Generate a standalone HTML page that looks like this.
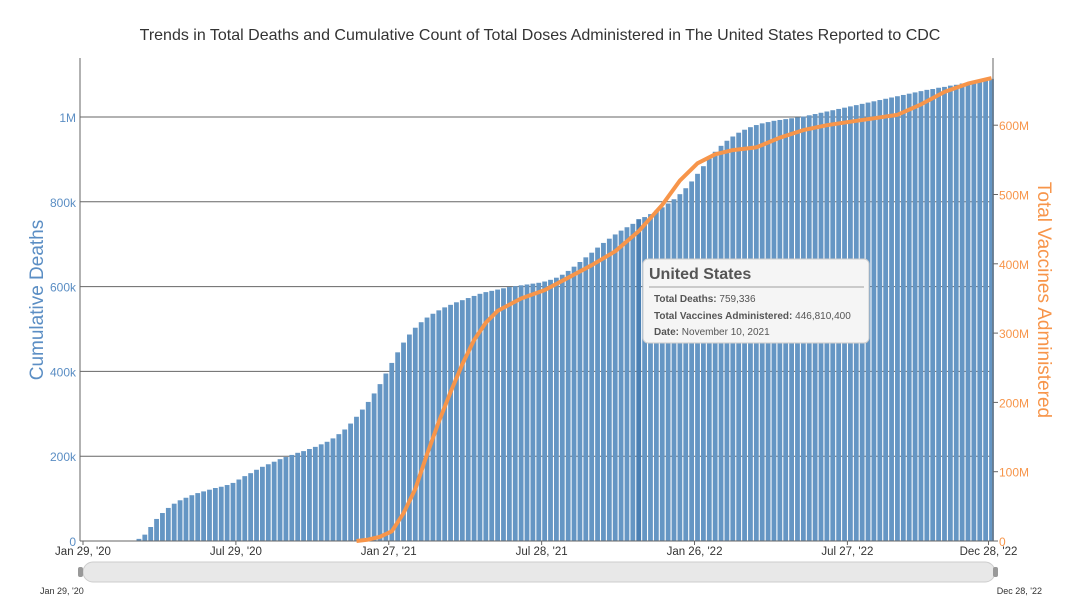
<!DOCTYPE html>
<html><head><meta charset="utf-8">
<style>
body{margin:0;background:#fff;font-family:"Liberation Sans","Noto Sans CJK SC",sans-serif;}
svg{display:block}
</style></head>
<body>
<svg id="chart" width="1080" height="604">
<text x="540" y="40" text-anchor="middle" font-size="16" fill="#333">Trends in Total Deaths and Cumulative Count of Total Doses Administered in The United States Reported to CDC</text>
<g id="grid"></g>
<g id="bars"></g>
<g id="axes"></g>
<path id="vline" fill="none" stroke="#f7954a" stroke-width="4" stroke-linejoin="round"/>
<text transform="translate(43,300) rotate(-90)" text-anchor="middle" font-size="19" fill="#5b8ec4">Cumulative Deaths</text>
<text transform="translate(1038,300) rotate(90)" text-anchor="middle" font-size="19" fill="#f7954a">Total Vaccines Administered</text>
<g>
<rect x="83" y="562" width="912" height="20" rx="10" fill="#e8e8e8" stroke="#ccc"/>
<rect x="78" y="567" width="5" height="10" rx="2" fill="#999"/>
<rect x="993" y="567" width="5" height="10" rx="2" fill="#999"/>
</g>
<text x="40" y="594" font-size="9" fill="#333">Jan 29, '20</text>
<text x="1042" y="594" font-size="9" fill="#333" text-anchor="end">Dec 28, '22</text>
<g>
<rect x="643" y="259" width="226" height="84" rx="5" fill="#f5f5f5" stroke="#ccc"/>
<text x="649" y="279" font-size="16" font-weight="bold" fill="#555">United States</text>
<line x1="649" y1="287" x2="864" y2="287" stroke="#bbb" stroke-width="1.5"/>
<text x="654" y="302" font-size="10" fill="#555"><tspan font-weight="bold">Total Deaths:</tspan> 759,336</text>
<text x="654" y="319" font-size="10" fill="#555"><tspan font-weight="bold">Total Vaccines Administered:</tspan> 446,810,400</text>
<text x="654" y="335" font-size="10" fill="#555"><tspan font-weight="bold">Date:</tspan> November 10, 2021</text>
</g>
</svg>
<script>
const deathsK=[0,0,0,0,0,0,0,0,1,5,15,33,52,66,78,88,96,102,108,113,117,121,125,128,132,137,145,153,160,168,175,181,187,193,198,203,208,212,217,222,228,234,242,252,263,277,293,310,328,348,370,395,420,445,468,487,503,516,527,536,544,551,557,563,568,573,578,583,587,590,593,596,599,601,603,605,607,609,612,616,621,628,637,647,658,669,680,692,703,713,723,732,740,748,759,764,771,779,787,796,806,818,832,848,866,884,902,918,932,944,954,963,970,976,981,985,988,991,993,995,997,999,1001,1004,1007,1010,1013,1016,1019,1022,1025,1028,1031,1034,1037,1040,1043,1046,1049,1052,1055,1058,1061,1064,1066,1069,1071,1074,1076,1079,1081,1084,1086,1088,1090];
const vaxWeeks=[46,48,50,52,54,56,58,60,62,64,66,68,70,74,78,82,86,90,94,98,101,104,107,110,114,118,122,126,130,134,138,142,146,150,154];
const vaxM=[0,2,6,14,40,75,125,172,215,255,290,315,332,350,362,380,398,418,447,485,520,545,558,564,568,582,593,600,605,610,615,630,648,660,668];
const leftTicks=[0,200,400,600,800,1000];
const leftLabels=["0","200k","400k","600k","800k","1M"];
const rightTicks=[0,100,200,300,400,500,600];
const rightLabels=["0","100M","200M","300M","400M","500M","600M"];
const xTickWeeks=[0,26,52,78,104,130,154];
const xTickLabels=["Jan 29, '20","Jul 29, '20","Jan 27, '21","Jul 28, '21","Jan 26, '22","Jul 27, '22","Dec 28, '22"];
const hoverWeek=94;
const NS="http://www.w3.org/2000/svg";
const X0=80,X1=993,Y0=541,YT=58;
const xw=w=>86+w*5.88;
const yl=v=>Y0-v/1000*424;
const yr=v=>Y0-v/100*69.3;
function mk(t,a,p){const e=document.createElementNS(NS,t);for(const k in a)e.setAttribute(k,a[k]);p.appendChild(e);return e;}
const grid=document.getElementById('grid'),bars=document.getElementById('bars'),axes=document.getElementById('axes');
leftTicks.forEach((v,i)=>{
  if(v>0){const g=mk('line',{x1:X0,x2:X1,y1:yl(v),y2:yl(v),stroke:'#666','stroke-width':1},grid);
  
  }
  const t=mk('text',{x:X0-4,y:yl(v)+5,'text-anchor':'end','font-size':12,fill:'#5b8ec4'},axes);t.textContent=leftLabels[i];
  
  
});
rightTicks.forEach((v,i)=>{
  mk('line',{x1:X1,x2:X1+5,y1:yr(v),y2:yr(v),stroke:'#666'},axes);
  const t=mk('text',{x:X1+6,y:yr(v)+5,'font-size':12,fill:'#f7954a'},axes);t.textContent=rightLabels[i];
  
  
});
deathsK.forEach((v,w)=>{
  if(v<=0)return;
  const b=mk('rect',{x:xw(w)-2.4,y:yl(v),width:4.8,height:Y0-yl(v),fill:w===hoverWeek?'#4a7fb3':'#6596c4'},bars);
  
  
});
mk('line',{x1:X0,x2:X0,y1:YT,y2:Y0,stroke:'#666'},axes);
mk('line',{x1:X1,x2:X1,y1:YT,y2:Y0,stroke:'#666'},axes);
mk('line',{x1:X0,x2:X1,y1:Y0,y2:Y0,stroke:'#666'},axes);
xTickWeeks.forEach((w,i)=>{
  mk('line',{x1:xw(w)-3,x2:xw(w)-3,y1:Y0,y2:Y0+4,stroke:'#666'},axes);
  const t=mk('text',{x:xw(w)-3,y:Y0+14,'text-anchor':'middle','font-size':11.5,fill:'#333'},axes);t.textContent=xTickLabels[i];
  
  
});
let d='';
vaxWeeks.forEach((w,i)=>{d+=(i?'L':'M')+xw(w).toFixed(1)+','+yr(vaxM[i]).toFixed(1);});
document.getElementById('vline').setAttribute('d',d);
</script>
</body></html>
